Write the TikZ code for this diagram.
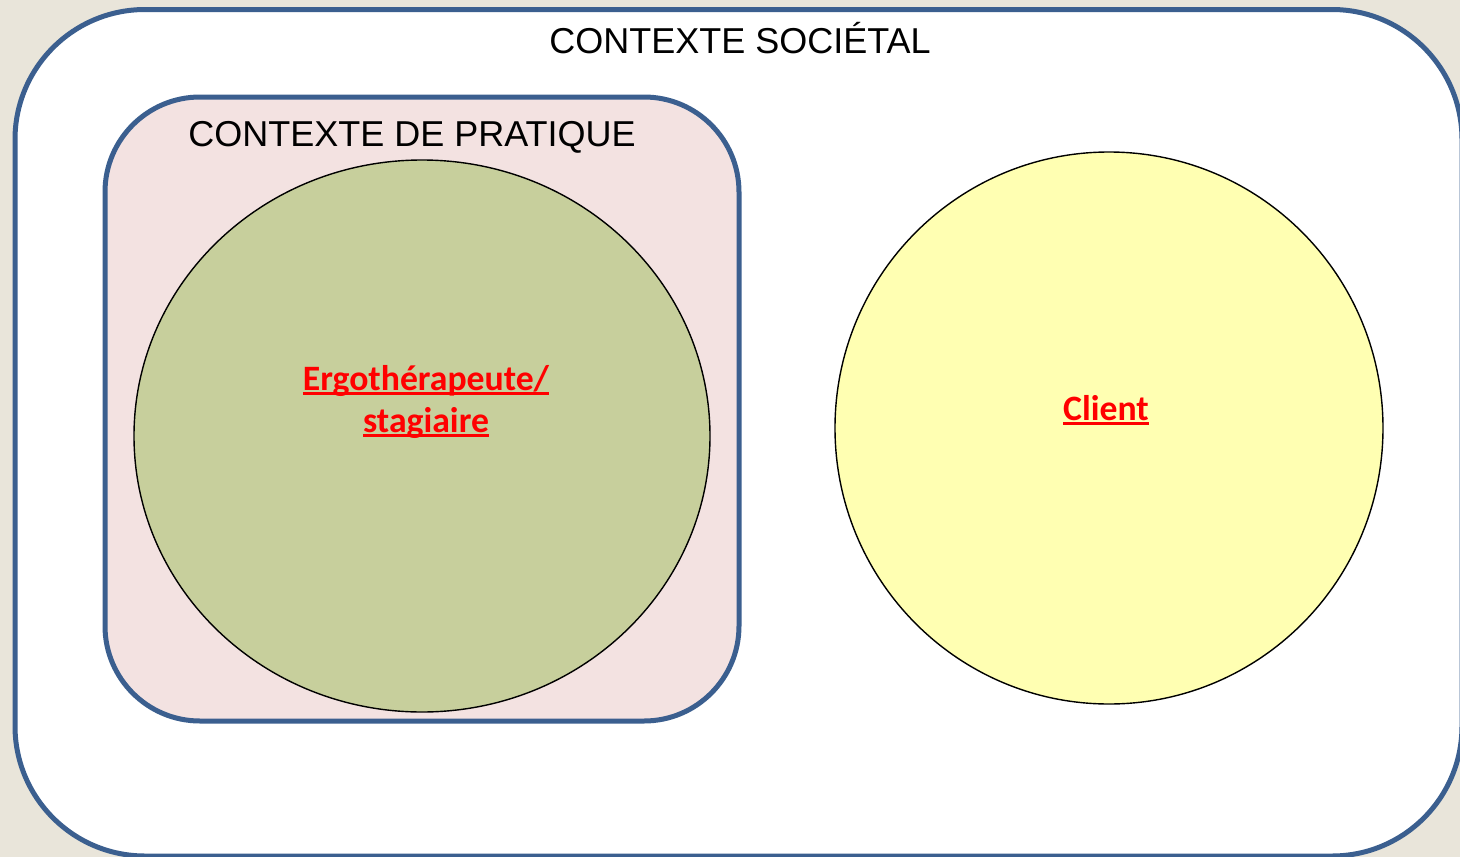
\documentclass[tikz,border=0pt]{standalone}
\usepackage{fontspec}
\setmainfont{Liberation Sans}
\newfontfamily\calib{Carlito}
\definecolor{bgc}{HTML}{E9E5DA}
\definecolor{framec}{HTML}{3B5F8F}
\definecolor{pinkc}{HTML}{F3E2E1}
\definecolor{greenc}{HTML}{C7CF9C}
\definecolor{yellowc}{HTML}{FFFFB2}
\newcommand\redul[1]{\setbox0\hbox{#1}\rlap{\rule[-4.5pt]{\wd0}{2.6pt}}\box0}
\tikzset{
  frame/.style={draw=framec, line width=5pt, rounded corners=#1},
  circ/.style={draw=black, line width=1.4pt},
  ctx/.style={font=\fontsize{36}{40}\selectfont, text=black, inner sep=0pt},
  redlab/.style={font=\calib\bfseries\fontsize{35.7}{42}\selectfont, text=red, align=center, inner sep=0pt}
}
\begin{document}
\begin{tikzpicture}[x=1pt,y=-1pt]
\useasboundingbox (0,0) rectangle (1460,857);
\fill[bgc] (0,0) rectangle (1460,857);
% outer frame (societal context)
\draw[frame=130, fill=white] (15,9.5) rectangle (1462,856);
\node[ctx, anchor=base] (soc) at (740,53) {CONTEXTE SOCIÉTAL};
% practice context
\draw[frame=95, fill=pinkc] (105,97) rectangle (739,721);
\node[ctx, anchor=base] (prat) at (412,146) {CONTEXTE DE PRATIQUE};
% ergotherapist circle
\draw[circ, fill=greenc] (422,436) ellipse [x radius=288, y radius=276];
\node[redlab] (ergo) at (426,402) {\redul{Ergothérapeute/}\\\redul{stagiaire}};
% client circle
\draw[circ, fill=yellowc] (1109,428) ellipse [x radius=274, y radius=276];
\node[redlab, anchor=base] (client) at (1106,420) {\redul{Client}};
\end{tikzpicture}
\end{document}
